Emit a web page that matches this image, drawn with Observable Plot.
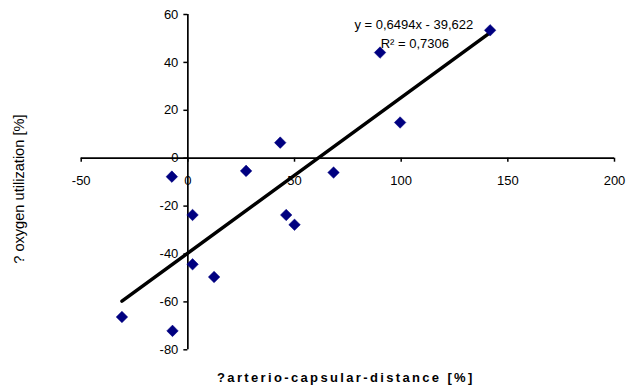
<!DOCTYPE html>
<html>
<head>
<meta charset="utf-8">
<script src="https://cdn.jsdelivr.net/npm/d3@7"></script>
<script src="https://cdn.jsdelivr.net/npm/@observablehq/plot@0.6"></script>
<style>
  html, body { margin: 0; padding: 0; background: #fff; }
  svg { display: block; }
</style>
</head>
<body>
<div id="chart"></div>
<script>
// Data
const xValues = [-7.5, 27.3, 43.3, 68.3, 90.1, 99.5, 141.7, 2.2, 2.2, 12.3, -30.9, -7.2, 46.1, 50.0];
const yValues = [-7.7, -5.3, 6.5, -6.0, 44.1, 14.9, 53.4, -23.7, -44.3, -49.6, -66.3, -72.1, -23.7, -27.8];
const xTicks = [-50, 0, 50, 100, 150, 200];
const yTicks = [-80, -60, -40, -20, 0, 20, 40, 60];
const trendSlope = 0.6494;
const trendIntercept = -39.622;
const equationLabel = "y = 0,6494x - 39,622";
const r2Label = "R² = 0,7306";
const xLabel = "?arterio-capsular-distance [%]";
const yLabel = "? oxygen utilization [%]";

const points = xValues.map((x, i) => ({x, y: yValues[i]}));
const xMin = d3.min(xValues), xMax = d3.max(xValues);
const trend = [xMin, xMax].map(x => ({x, y: trendSlope * x + trendIntercept}));

const font = "'Liberation Sans', Arial, sans-serif";

const chart = Plot.plot({
  width: 626,
  height: 385,
  marginLeft: 80.7,
  marginRight: 12,
  marginTop: 14,
  marginBottom: 35.7,
  style: {fontFamily: font, fontSize: "13px", color: "#000", background: "#fff"},
  x: {domain: [d3.min(xTicks), d3.max(xTicks)], axis: null},
  y: {domain: [d3.min(yTicks), d3.max(yTicks)], axis: null},
  marks: [
    // axes crossing at origin
    Plot.ruleY([0], {x1: d3.min(xTicks), x2: d3.max(xTicks), stroke: "#000", strokeWidth: 1.7}),
    Plot.ruleX([0], {y1: d3.min(yTicks), y2: d3.max(yTicks), stroke: "#000", strokeWidth: 1.7}),
    // tick marks
    Plot.ruleX(xTicks, {x: d => d, y1: 0, y2: 0, insetBottom: -4, stroke: "#000", strokeWidth: 1.5}),
    Plot.ruleY(yTicks, {y: d => d, x1: 0, x2: 0, insetLeft: -4, stroke: "#000", strokeWidth: 1.5}),
    // tick labels
    Plot.text(xTicks, {x: d => d, y: 0, text: d => String(d), dy: 22.5, fill: "#000", fontSize: 13}),
    Plot.text(yTicks, {x: 0, y: d => d, text: d => String(d), dx: -9.5, textAnchor: "end", fill: "#000", fontSize: 13}),
    // trend line
    Plot.line(trend, {x: "x", y: "y", stroke: "#000", strokeWidth: 3.5}),
    // data points
    Plot.dot(points, {x: "x", y: "y", symbol: "diamond2", r: 5.2, fill: "#000080", stroke: "#000080", strokeWidth: 0.5}),
    // equation annotation
    Plot.text([equationLabel], {frameAnchor: "top", dx: 66, dy: 10, text: d => d, fill: "#000", fontSize: 13, lineAnchor: "middle"}),
    Plot.text([r2Label], {frameAnchor: "top", dx: 67, dy: 29, text: d => d, fill: "#000", fontSize: 13, lineAnchor: "middle"}),
    // axis titles
    Plot.text([xLabel], {frameAnchor: "bottom", textAnchor: "middle", dx: -2, dy: 28, text: d => d, fill: "#000", fontSize: 13, fontWeight: "bold", lineAnchor: "middle"}),
    Plot.text([yLabel], {frameAnchor: "left", textAnchor: "middle", dx: -62, dy: 7, rotate: -90, text: d => d, fill: "#000", fontSize: 14.6, lineAnchor: "middle"})
  ]
});
d3.select(chart).selectAll("text")
  .filter(function() { return this.textContent === xLabel; })
  .style("letter-spacing", "2.35px");
document.getElementById("chart").appendChild(chart);
</script>
</body>
</html>
